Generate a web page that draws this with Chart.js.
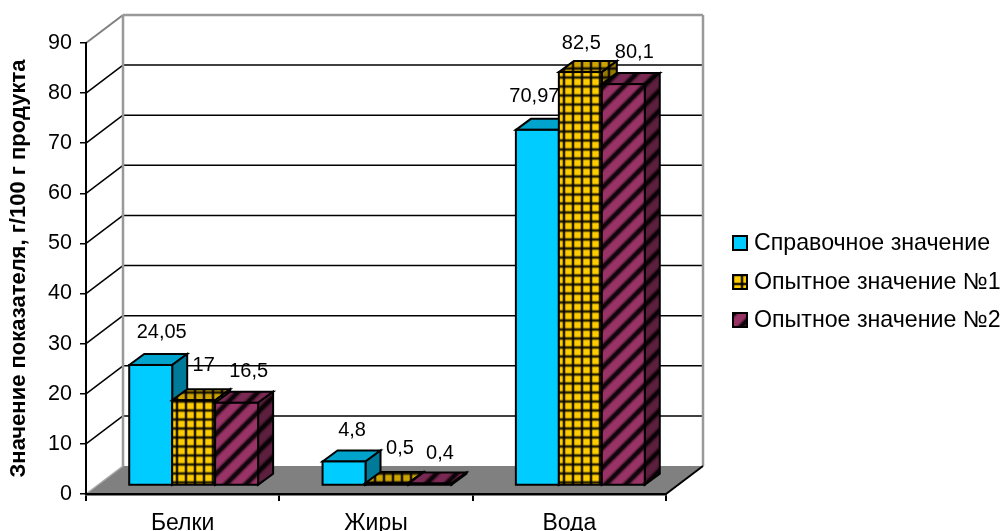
<!DOCTYPE html>
<html lang="ru">
<head>
<meta charset="utf-8">
<title>Значение показателя</title>
<style>
  html, body { margin: 0; padding: 0; background: #fff; }
  canvas { display: block; }
</style>
<script src="https://cdn.jsdelivr.net/npm/chart.js@4"></script>
</head>
<body>
<canvas id="grafico" width="1003" height="531"></canvas>
<script>
const categorias = ['Белки', 'Жиры', 'Вода'];
const seriesNomes = ['Справочное значение', 'Опытное значение №1', 'Опытное значение №2'];
const spravochnoe = [24.05, 4.8, 70.97];
const opyt1 = [17, 0.5, 82.5];
const opyt2 = [16.5, 0.4, 80.1];
const escalaMax = 90;
const escalaPasso = 10;

// 3D depth of the box and of the bars
const FUNDO = { x: 37, y: 28 };
const BARRA = { x: 15, y: 11 };
const RECUO = { x: 11, y: 8.5 };

// hand-moved data labels: series -> category -> [dx, dy]
const rotuloAjuste = [
  [[0, 0], [-3, 1], [-14, -1]],
  [[-1, -3], [2, -3], [-10, 3]],
  [[1, 1], [-1, 2], [0, 0]]
];

const FONTE = '"Liberation Sans", Arial, sans-serif';

function padrao(lado, desenho) {
  const c = document.createElement('canvas');
  c.width = c.height = lado;
  const g = c.getContext('2d');
  desenho(g);
  return g.createPattern(c, 'repeat');
}

// yellow lattice with soft dark lines
function grade(cor) {
  return padrao(9, g => {
    g.fillStyle = cor;
    g.fillRect(0, 0, 9, 9);
    g.fillStyle = 'rgba(0,0,0,.25)';
    g.fillRect(2, 0, 4, 9);
    g.fillRect(0, 3, 9, 4);
    g.fillStyle = 'rgba(0,0,0,.8)';
    g.fillRect(3, 0, 2, 9);
    g.fillRect(0, 4, 9, 2);
  });
}

// rising diagonal stripes
function listras(cor) {
  return padrao(20, g => {
    g.fillStyle = cor;
    g.fillRect(0, 0, 20, 20);
    [-12.5, 7.5, 27.5, 47.5].forEach(c => {
      g.beginPath();
      g.moveTo(c + 5, -5);
      g.lineTo(c - 25, 25);
      g.strokeStyle = 'rgba(0,0,0,.3)';
      g.lineWidth = 7;
      g.stroke();
      g.strokeStyle = 'rgba(0,0,0,.85)';
      g.lineWidth = 4;
      g.stroke();
    });
  });
}

const faces = [
  { frente: '#00ccff', topo: '#00a3cc', lado: '#007a99' },
  { frente: grade('#ffcc00'), topo: grade('#cca300'), lado: grade('#997a00') },
  { frente: listras('#993366'), topo: listras('#7a2952'), lado: listras('#5c1f3d') }
];

function poligono(ctx, pontos, fill, stroke, largura) {
  ctx.beginPath();
  pontos.forEach((p, i) => i ? ctx.lineTo(p[0], p[1]) : ctx.moveTo(p[0], p[1]));
  ctx.closePath();
  if (fill) {
    ctx.fillStyle = fill;
    ctx.fill();
  }
  if (stroke) {
    ctx.strokeStyle = stroke;
    ctx.lineWidth = largura || 1;
    ctx.stroke();
  }
}

function linha(ctx, x1, y1, x2, y2, cor, largura) {
  ctx.beginPath();
  ctx.moveTo(x1, y1);
  ctx.lineTo(x2, y2);
  ctx.strokeStyle = cor;
  ctx.lineWidth = largura;
  ctx.stroke();
}

const caixa3d = {
  id: 'caixa3d',
  // back wall, side wall and floor sit under the axes
  beforeDraw(chart) {
    const { ctx, chartArea: a, scales } = chart;
    ctx.save();
    ctx.fillStyle = '#fff';
    ctx.fillRect(0, 0, chart.width, chart.height);

    poligono(ctx, [
      [a.left, a.bottom], [a.right, a.bottom],
      [a.right + FUNDO.x, a.bottom - FUNDO.y], [a.left + FUNDO.x, a.bottom - FUNDO.y]
    ], '#808080');

    for (let v = escalaPasso; v < escalaMax; v += escalaPasso) {
      const y = scales.y.getPixelForValue(v);
      linha(ctx, a.left, y, a.left + FUNDO.x, y - FUNDO.y, '#000', 1.5);
      linha(ctx, a.left + FUNDO.x, y - FUNDO.y, a.right + FUNDO.x, y - FUNDO.y, '#000', 1.5);
    }

    const topo = a.top - FUNDO.y;
    const fundoY = a.bottom - FUNDO.y;
    linha(ctx, a.left, a.top, a.left + FUNDO.x, topo, '#808080', 2);
    linha(ctx, a.left + FUNDO.x, topo, a.right + FUNDO.x, topo, '#999', 2.5);
    linha(ctx, a.left + FUNDO.x, topo, a.left + FUNDO.x, fundoY, '#999', 2.5);
    linha(ctx, a.right + FUNDO.x, topo, a.right + FUNDO.x, fundoY, '#999', 2.5);
    linha(ctx, a.left, a.bottom, a.left + FUNDO.x, fundoY, '#aaa', 1.5);
    linha(ctx, a.right, a.bottom, a.right + FUNDO.x, fundoY, '#000', 2);
    ctx.restore();
  },
  // bars are painted left to right so each one covers the side of the previous
  beforeDatasetsDraw(chart) {
    const { ctx } = chart;
    ctx.save();
    ctx.translate(RECUO.x, -RECUO.y);
    chart.getSortedVisibleDatasetMetas().forEach(meta => {
      const f = faces[meta.index];
      meta.data.forEach(el => {
        const e = el.getProps(['x', 'y', 'base', 'width'], true);
        const l = e.x - e.width / 2;
        const r = e.x + e.width / 2;
        poligono(ctx, [[l, e.y], [l + BARRA.x, e.y - BARRA.y], [r + BARRA.x, e.y - BARRA.y], [r, e.y]], f.topo, '#000', 2);
        poligono(ctx, [[r, e.y], [r + BARRA.x, e.y - BARRA.y], [r + BARRA.x, e.base - BARRA.y], [r, e.base]], f.lado, '#000', 2);
      });
      meta.controller.draw();
      meta.data.forEach(el => {
        const e = el.getProps(['x', 'y', 'base', 'width'], true);
        ctx.strokeStyle = '#000';
        ctx.lineWidth = 2;
        ctx.strokeRect(e.x - e.width / 2, e.y, e.width, e.base - e.y);
      });
    });
    ctx.restore();
    return false;
  },
  // data labels and legend go on top of everything
  afterDraw(chart) {
    const { ctx } = chart;
    ctx.save();
    ctx.fillStyle = '#000';
    ctx.font = '20px ' + FONTE;
    ctx.textAlign = 'center';
    ctx.textBaseline = 'middle';
    chart.data.datasets.forEach((ds, i) => {
      chart.getDatasetMeta(i).data.forEach((el, j) => {
        const e = el.getProps(['x', 'y'], true);
        const d = rotuloAjuste[i][j];
        const texto = String(ds.data[j]).replace('.', ',');
        ctx.fillText(texto, e.x + RECUO.x + 11 + d[0], e.y - RECUO.y - 32 + d[1]);
      });
    });

    ctx.textAlign = 'left';
    ctx.font = '23.2px ' + FONTE;
    const legendaY = [243, 282, 320];
    chart.data.datasets.forEach((ds, i) => {
      const y = legendaY[i];
      ctx.fillStyle = ds.backgroundColor;
      ctx.fillRect(733, y - 7, 14, 14);
      ctx.strokeStyle = '#000';
      ctx.lineWidth = 2;
      ctx.strokeRect(733, y - 7, 14, 14);
      ctx.fillStyle = '#000';
      ctx.fillText(ds.label, 754, y + 1);
    });
    ctx.restore();
  }
};

new Chart(document.getElementById('grafico').getContext('2d'), {
  type: 'bar',
  data: {
    labels: categorias,
    datasets: [spravochnoe, opyt1, opyt2].map((valores, i) => ({
      label: seriesNomes[i],
      data: valores,
      backgroundColor: faces[i].frente,
      borderWidth: 0,
      clip: false,
      categoryPercentage: 2 / 3,
      barPercentage: 1
    }))
  },
  plugins: [caixa3d],
  options: {
    responsive: false,
    animation: false,
    layout: { padding: { top: 43, right: 337, bottom: 0, left: 0 } },
    plugins: {
      legend: { display: false },
      tooltip: { enabled: false }
    },
    scales: {
      x: {
        afterFit: s => { s.height = 37; },
        grid: {
          offset: true,
          drawOnChartArea: false,
          color: '#000',
          lineWidth: 2,
          tickLength: 7
        },
        border: { color: '#000', width: 2.5 },
        ticks: { color: '#000', font: { family: FONTE, size: 23 }, padding: 9, maxRotation: 0 }
      },
      y: {
        min: 0,
        max: escalaMax,
        afterFit: s => { s.width = 86; },
        grid: {
          drawOnChartArea: false,
          color: '#000',
          lineWidth: 1.5,
          tickLength: 6
        },
        border: { color: '#000', width: 2 },
        ticks: { color: '#000', font: { family: FONTE, size: 21.5 }, stepSize: escalaPasso, padding: 8 },
        title: {
          display: true,
          text: 'Значение показателя, г/100 г продукта',
          color: '#000',
          font: { family: FONTE, size: 22, weight: 'bold' },
          padding: { top: 6, bottom: 0 }
        }
      }
    }
  }
});
</script>
</body>
</html>
